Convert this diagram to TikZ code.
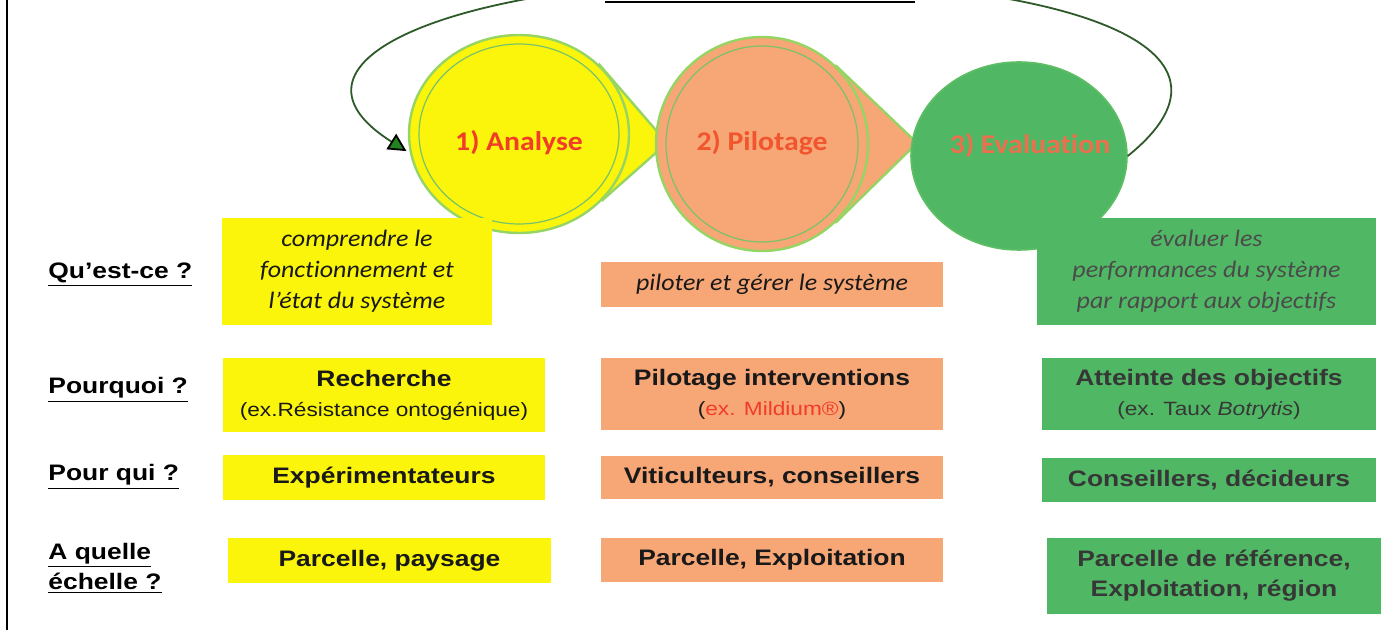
\documentclass[tikz,border=0pt]{standalone}
\usepackage{fontspec}
\setmainfont{Liberation Sans}[FakeStretch=1.18]
\newfontfamily\calfont{Carlito}[FakeStretch=1.1,Ligatures=CommonOff]
\usetikzlibrary{shapes.geometric,arrows.meta,backgrounds}
\definecolor{yel}{RGB}{250,245,10}
\definecolor{ora}{RGB}{247,166,118}
\definecolor{grn}{RGB}{80,184,100}
\definecolor{lgrn}{RGB}{150,212,100}
\definecolor{dgrn}{RGB}{45,90,40}
\definecolor{redA}{RGB}{240,60,40}
\definecolor{redP}{RGB}{240,85,45}
\definecolor{redE}{RGB}{236,112,78}
\definecolor{txtg}{RGB}{55,55,55}
\tikzset{
  box/.style={inner sep=0pt,align=center,text=black!90,font=\fontsize{11.2}{15}\selectfont\bfseries},
  ybox/.style={box,fill=yel},
  obox/.style={box,fill=ora},
  gbox/.style={box,fill=grn,text=txtg},
  itxt/.style={font=\calfont\itshape\fontsize{11.8}{15.5}\selectfont},
  rowlbl/.style={anchor=west,align=left,inner sep=0pt,font=\fontsize{11.2}{15}\selectfont\bfseries},
  bubble/.style={ellipse,inner sep=0pt,draw=lgrn,line width=1.2pt},
  ring/.style={draw=lgrn!80!teal,line width=0.6pt},
  steplbl/.style={font=\calfont\bfseries\fontsize{13.5}{16}\selectfont},
  looparrow/.style={draw=dgrn,line width=0.9pt,-{Triangle[length=9pt,width=9pt,color=black,fill=dgrn!75!green]}}
}
\newcommand{\sub}[1]{{\mdseries\fontsize{9.6}{15}\selectfont #1}}
\begin{document}
\begin{tikzpicture}[x=0.5pt,y=-0.5pt]
\useasboundingbox (0,0) rectangle (1398,630);
\clip (0,0) rectangle (1398,630);
\draw[line width=1pt] (7,0) -- (7,630);
\draw[line width=1pt] (605,2) -- (915,2);
% cycle
\node[bubble,fill=yel,minimum width=110pt,minimum height=99pt] (ana) at (519,134) {};
\node[bubble,fill=ora,minimum width=106pt,minimum height=107pt] (pil) at (762,144) {};
\node[bubble,fill=grn,draw=grn!80!lgrn,line width=0.8pt,minimum width=108pt,minimum height=94pt] (eva) at (1019,156) {};
\coordinate (anatip) at (667,143);
\coordinate (piltip) at (917,143);
\begin{scope}[on background layer]
\filldraw[fill=yel,draw=lgrn,line width=1.2pt] (ana.40) -- (anatip) -- (ana.-38) -- cycle;
\filldraw[fill=ora,draw=lgrn,line width=1.2pt] (pil.46) -- (piltip) -- (pil.-46) -- cycle;
\end{scope}
\draw[ring] (ana.center) ellipse[x radius=100,y radius=90];
\draw[ring] (pil.center) ellipse[x radius=96,y radius=98];
\node[steplbl,text=redA] (anal) at (519,143) {1) Analyse};
\node[steplbl,text=redP] (pill) at (762,143) {2) Pilotage};
\node[steplbl,text=redE] (eval) at (1030,146) {3) Evaluation};
\draw[looparrow,shorten >=2pt] (eva.east) .. controls (1265,45) and (1060,-20) .. (760,-20)
  .. controls (460,-20) and (262,60) .. (ana.190);
% row labels
\node[rowlbl] (q1) at (48,275) {\underline{Qu’est-ce ?}};
\node[rowlbl] (q2) at (48,390) {\underline{Pourquoi ?}};
\node[rowlbl] (q3) at (48,477) {\underline{Pour qui ?}};
\node[rowlbl] (q4) at (48,568) {\underline{A quelle}\\\underline{échelle ?}};
% yellow column
\node[ybox,itxt,minimum width=135pt,minimum height=53.5pt] (yq) at (357,271.5) {comprendre le\\fonctionnement et\\l’état du système};
\node[ybox,minimum width=161pt,minimum height=37pt] (yp) at (384,395) {Recherche\\\sub{(ex.Résistance ontogénique)}};
\node[ybox,minimum width=161pt,minimum height=22.5pt] (yw) at (384,477.5) {Expérimentateurs};
\node[ybox,minimum width=161.5pt,minimum height=22.5pt] (ye) at (389.5,560.5) {Parcelle, paysage};
% orange column
\node[obox,itxt,minimum width=171pt,minimum height=22.5pt] (oq) at (772,284.5) {piloter et gérer le système};
\node[obox,minimum width=171pt,minimum height=36pt] (op) at (772,394) {Pilotage interventions\\\sub{(\textcolor{redA}{ex. Mildium®})}};
\node[obox,minimum width=171pt,minimum height=21.5pt] (ow) at (772,477.5) {Viticulteurs, conseillers};
\node[obox,minimum width=171pt,minimum height=22pt] (oe) at (772,560) {Parcelle, Exploitation};
% green column
\node[gbox,itxt,text=txtg!90!white,minimum width=169.5pt,minimum height=53.5pt] (gq) at (1206.5,271.5) {évaluer les\\performances du système\\par rapport aux objectifs};
\node[gbox,minimum width=167pt,minimum height=36pt] (gp) at (1209,394) {Atteinte des objectifs\\\sub{(ex. Taux \textit{Botrytis})}};
\node[gbox,minimum width=167pt,minimum height=22pt] (gw) at (1209,480) {Conseillers, décideurs};
\node[gbox,minimum width=167pt,minimum height=38pt] (ge) at (1214,576) {Parcelle de référence,\\Exploitation, région};
\end{tikzpicture}
\end{document}
